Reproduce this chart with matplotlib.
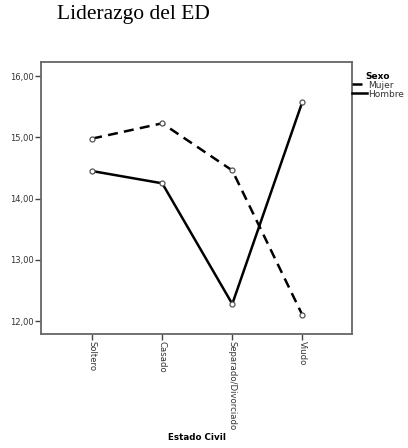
import numpy as np
import matplotlib.pyplot as plt

# medias de Liderazgo del ED por estado civil y sexo
categorias = ["Soltero", "Casado", "Separado/Divorciado", "Viudo"]
mujer = [14.98, 15.23, 14.46, 12.10]
hombre = [14.45, 14.25, 12.28, 15.58]
yticks = [12, 13, 14, 15, 16]


def main():
    fig = plt.figure(figsize=(4.08, 4.48), dpi=100)
    ax = fig.add_axes([0.1005, 0.2545, 0.7625, 0.607])

    x = np.arange(len(categorias))
    mk = dict(marker='o', markersize=3.6, markerfacecolor='white',
              markeredgecolor='#555555', markeredgewidth=0.9)
    ax.plot(x, mujer, color='black', linewidth=1.8, linestyle=(0, (4, 2.5)),
            label='Mujer', **mk)
    ax.plot(x, hombre, color='black', linewidth=1.8, linestyle='-',
            label='Hombre', **mk)

    ax.set_xlim(-0.73, 3.71)
    ax.set_ylim(11.79, 16.23)
    ax.set_xticks(x)
    ax.set_xticklabels(categorias, rotation=-90, fontsize=6.1, color='#333333')
    ax.set_yticks(yticks)
    ax.set_yticklabels(['%d,00' % v for v in yticks], fontsize=6, color='#333333')
    ax.tick_params(length=4, width=1, color='#444444', pad=1)
    for s in ax.spines.values():
        s.set_color('#666666')
        s.set_linewidth(1.3)

    ax.set_xlabel("Estado Civil", fontsize=6.3, fontweight='bold')
    ax.xaxis.set_label_coords(0.5, -0.365)

    fig.text(57 / 408, 1 - 14 / 448, "Liderazgo del ED", fontsize=15.5,
             family='Liberation Serif', ha='left', va='center')

    leg = ax.legend(title="Sexo", loc='upper left', bbox_to_anchor=(1.0, 0.965),
                    frameon=False, fontsize=6.5, title_fontsize=6.5,
                    handlelength=1.7, handletextpad=0.05, borderaxespad=0,
                    labelspacing=0.0, borderpad=0)
    leg.get_title().set_fontweight('bold')
    for t in leg.get_texts():
        t.set_color('#333333')
    for h in leg.legend_handles:
        h.set_marker('')

    fig.savefig("out.png", dpi=100)


if __name__ == "__main__":
    main()
